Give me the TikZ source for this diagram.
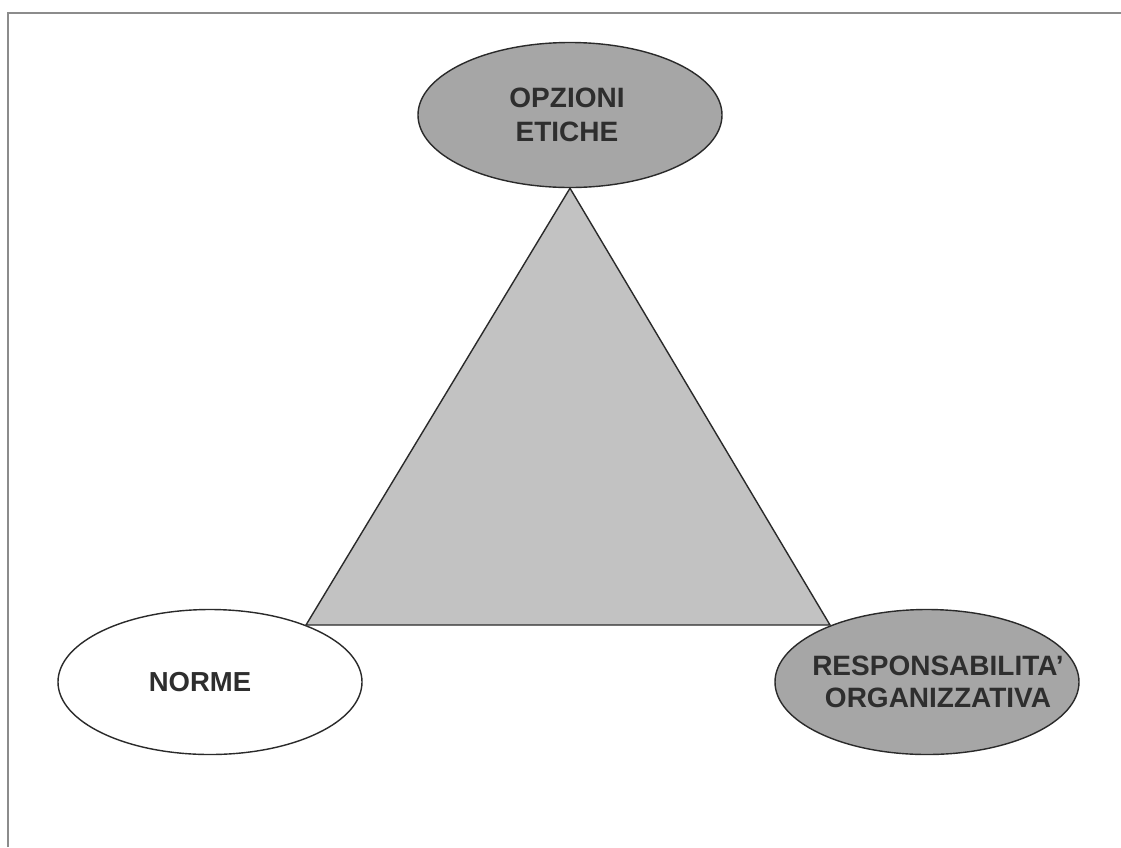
\documentclass[tikz,border=0pt]{standalone}
\usepackage{fontspec}
\setmainfont{Liberation Sans}
\usetikzlibrary{shapes.geometric}
\definecolor{framegray}{HTML}{8C8C8C}
\definecolor{darkfill}{HTML}{A6A6A6}
\definecolor{trifill}{HTML}{C2C2C2}
\definecolor{txtgray}{HTML}{2E2E2E}
\definecolor{edgegray}{HTML}{2A2A2A}
\tikzset{
  oval/.style={ellipse, draw=edgegray, line width=1.4pt, minimum width=304pt, minimum height=145pt,
    inner xsep=-40pt, inner ysep=0pt, align=center, font=\fontsize{28}{34}\selectfont\bfseries, text=txtgray},
  darkoval/.style={oval, fill=darkfill},
  lightoval/.style={oval, fill=white},
  frameline/.style={draw=framegray, line width=2.5pt},
  tri/.style={draw=edgegray, line width=1.4pt, fill=trifill, line join=miter}
}
\begin{document}
\begin{tikzpicture}[x=1pt,y=-1pt]
\useasboundingbox (0,0) rectangle (1121,847);
\fill[white] (0,0) rectangle (1121,847);
\coordinate (fb) at (8,847);
\coordinate (fc) at (8,13);
\coordinate (fr) at (1121,13);
\draw[frameline] (fb) -- (fc) -- (fr);
\node[darkoval] (etiche) at (570,115) {\hspace*{-6pt}OPZIONI\\\hspace*{-6pt}ETICHE};
\node[lightoval, font=\fontsize{27.5}{34}\selectfont\bfseries] (norme) at (210,682) {\hspace*{-20pt}NORME};
\node[darkoval, font=\fontsize{28}{32.5}\selectfont\bfseries] (resp) at (927,682) {\hspace*{22pt}RESPONSABILITA'\\\hspace*{22pt}ORGANIZZATIVA};
\coordinate (apex) at (etiche.south);
\coordinate (bl) at (306,625);
\coordinate (br) at (830,625);
\draw[tri] (apex) -- (br) -- (bl) -- cycle;
\end{tikzpicture}
\end{document}
